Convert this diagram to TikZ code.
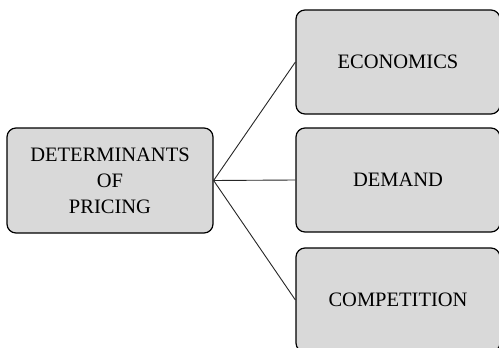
\documentclass[tikz,border=0pt]{standalone}
\usepackage{fontspec}
\setmainfont{Liberation Serif}
\usepackage{xcolor}
\usetikzlibrary{shapes, arrows}
\usetikzlibrary{positioning}
\definecolor{boxgray}{HTML}{D9D9D9}
\tikzset{
  detbox/.style={draw, rectangle, rounded corners=9pt, fill=boxgray, line width=1.2pt,
    minimum width=204pt, minimum height=104pt, align=center,
    font=\fontsize{20.5}{26}\selectfont},
  link/.style={line width=0.9pt, draw=black!85}
}

\begin{document}
\begin{tikzpicture}[x=1pt,y=-1pt]
\useasboundingbox (0,0) rectangle (499,348);

\node[detbox, minimum width=206pt, minimum height=105pt] (pricing) at (110,180.5)
{DETERMINANTS\\OF\\PRICING};

\node[detbox] (econ) at (398,62) {ECONOMICS};
\node[detbox] (demand) at (398,180) {DEMAND};
\node[detbox] (comp) at (398,300) {COMPETITION};

\draw[link] (pricing.east) -- (econ.west);
\draw[link] (pricing.east) -- (demand.west);
\draw[link] (pricing.east) -- (comp.west);

\end{tikzpicture}
\end{document}
